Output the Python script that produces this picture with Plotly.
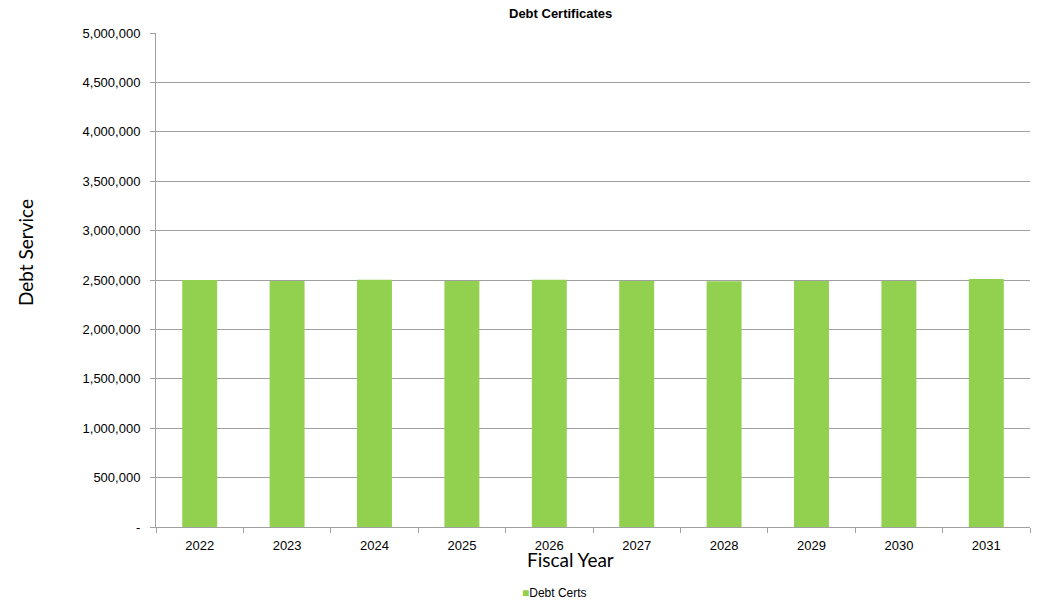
import plotly.graph_objects as go

# Fiscal years and annual debt service on the certificates
years = ["2022", "2023", "2024", "2025", "2026", "2027", "2028", "2029", "2030", "2031"]
debt_certs = [2500000, 2490000, 2502000, 2490000, 2503000, 2490000, 2488000, 2490000, 2490000, 2510000]
series_name = "Debt Certs"

y_tickvals = [0, 500000, 1000000, 1500000, 2000000, 2500000, 3000000, 3500000, 4000000, 4500000, 5000000]
y_ticktext = ["-", "500,000", "1,000,000", "1,500,000", "2,000,000", "2,500,000",
              "3,000,000", "3,500,000", "4,000,000", "4,500,000", "5,000,000"]

GRID = "#a0a0a0"
BAR = "#92d050"
ARIAL = "Liberation Sans, Arial, sans-serif"
TICKFONT = dict(family=ARIAL, size=13, color="#000000")

fig = go.Figure()
fig.add_trace(go.Bar(
    x=years,
    y=debt_certs,
    name=series_name,
    marker=dict(color=BAR, line=dict(width=0)),
    showlegend=False,
))

fig.update_layout(
    width=1038,
    height=604,
    margin=dict(l=156, r=8, t=33, b=77),
    paper_bgcolor="white",
    plot_bgcolor="white",
    bargap=0.6,
    showlegend=False,
    xaxis=dict(
        type="category",
        showline=True,
        linecolor=GRID,
        linewidth=1,
        ticks="outside",
        tickson="boundaries",
        ticklen=5,
        tickcolor=GRID,
        tickfont=TICKFONT,
        ticklabelstandoff=6,
        showgrid=False,
    ),
    yaxis=dict(
        range=[0, 5000000],
        tickvals=y_tickvals,
        ticktext=y_ticktext,
        showline=True,
        linecolor=GRID,
        linewidth=1,
        ticks="outside",
        ticklen=5,
        tickcolor=GRID,
        tickfont=TICKFONT,
        ticklabelstandoff=7,
        showgrid=True,
        gridcolor=GRID,
        gridwidth=1,
        zeroline=False,
    ),
    annotations=[
        dict(text="<b>Debt Certificates</b>", xref="paper", yref="paper",
             x=(560 - 156) / 874, y=1 + (33 - 14) / 494, xanchor="center", yanchor="middle",
             showarrow=False,
             font=dict(family=ARIAL, size=13, color="#000000")),
        dict(text="Fiscal Year", xref="paper", yref="paper",
             x=(570 - 156) / 874, y=-(559 - 527) / 494, xanchor="center", yanchor="middle",
             showarrow=False,
             font=dict(family="Lato, Open Sans, sans-serif", size=19, color="#000000")),
        dict(text="Debt Service", xref="paper", yref="paper",
             x=-(156 - 25) / 874, y=(527 - 253) / 494, xanchor="center", yanchor="middle",
             textangle=-90, showarrow=False,
             font=dict(family="Lato, Open Sans, sans-serif", size=19, color="#000000")),
        # series key below the axis title
        dict(text=f"<span style='color:{BAR}'>■</span>{series_name}", xref="paper", yref="paper",
             x=(520 - 156) / 874, y=-(593 - 527) / 494, xanchor="left", yanchor="middle",
             showarrow=False,
             font=dict(family=ARIAL, size=12, color="#000000")),
    ],
)

fig.write_html("out.html")
